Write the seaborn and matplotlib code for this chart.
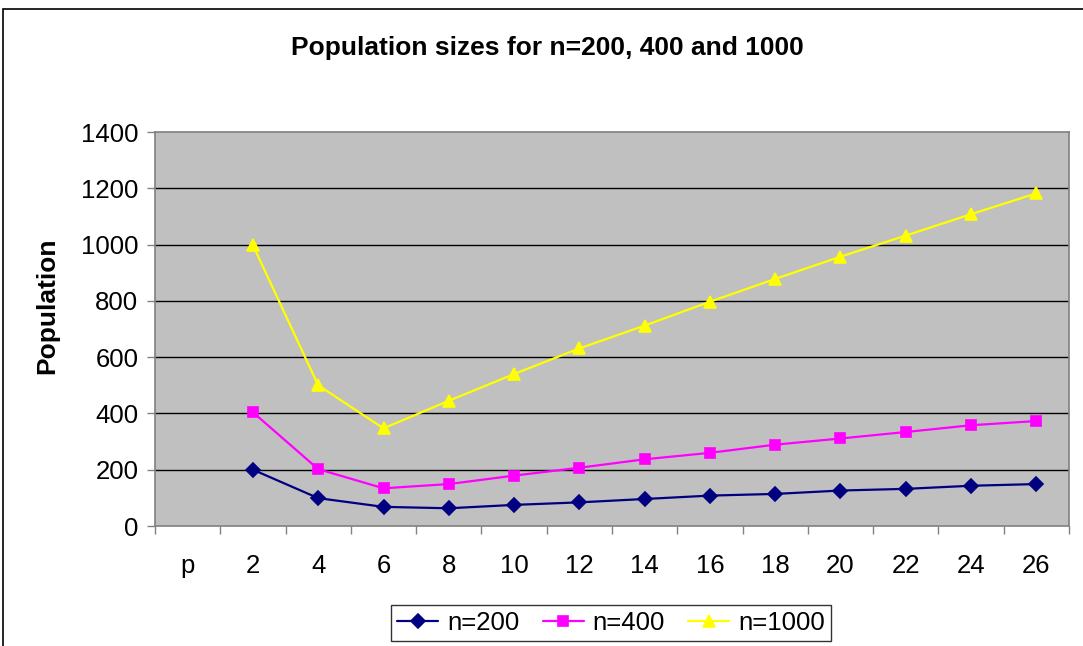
import matplotlib
matplotlib.use("Agg")
import matplotlib.pyplot as plt
from matplotlib.patches import Rectangle
from matplotlib.ticker import FixedLocator
import seaborn as sns
import numpy as np
import pandas as pd

categories = ["p", "2", "4", "6", "8", "10", "12", "14", "16", "18", "20", "22", "24", "26"]
n200 = [np.nan, 200, 99, 68, 63, 75, 84, 96, 108, 114, 126, 132, 143, 149]
n400 = [np.nan, 404, 202, 134, 149, 179, 207, 237, 260, 289, 311, 334, 358, 373]
n1000 = [np.nan, 998, 500, 347, 445, 540, 631, 712, 797, 878, 957, 1032, 1108, 1182]
series_names = ["n=200", "n=400", "n=1000"]
y_ticks = [0, 200, 400, 600, 800, 1000, 1200, 1400]

rows = []
for name, vals in zip(series_names, [n200, n400, n1000]):
    for c, v in zip(categories, vals):
        rows.append({"p": c, "Population": v, "series": name})
df = pd.DataFrame(rows)

sns.set_theme(style="white")
plt.rcParams["font.family"] = ["Liberation Sans", "DejaVu Sans"]
plt.rcParams["text.color"] = "black"
plt.rcParams["axes.labelcolor"] = "black"
plt.rcParams["xtick.color"] = "black"
plt.rcParams["ytick.color"] = "black"

W, H = 1083, 646
fig = plt.figure(figsize=(W / 100, H / 100), dpi=100)
ax = fig.add_axes([155 / W, 1 - 526 / H, (1069 - 155) / W, (526 - 132) / H])
ax.set_facecolor("#C0C0C0")

colors = ["#000080", "#FF00FF", "#FFFF00"]
sns.pointplot(data=df, x="p", y="Population", hue="series", order=categories,
              hue_order=series_names, palette=colors, markers=["D", "s", "^"],
              linestyles=["-", "-", "-"], errorbar=None, dodge=False,
              markersize=7, linewidth=1.6, ax=ax)
for line in ax.lines:
    m = line.get_marker()
    if m == "D":
        line.set_markersize(7)
    elif m == "s":
        line.set_markersize(7.5)
    elif m == "^":
        line.set_markersize(8.5)

ax.set_xlim(-0.5, len(categories) - 0.5)
ax.set_ylim(0, 1400)
ax.set_yticks(y_ticks)
ax.set_yticklabels([str(t) for t in y_ticks])
ax.grid(False)
for t in y_ticks[1:-1]:
    ax.axhline(t, color="black", lw=1, zorder=0.5)

ax.xaxis.set_minor_locator(FixedLocator(np.arange(-0.5, len(categories), 1.0)))
ax.tick_params(axis="x", which="major", length=0, pad=20, labelsize=18.5, labelcolor="black")
ax.tick_params(axis="x", which="minor", length=6, width=1, color="#808080", direction="out", bottom=True)
ax.tick_params(axis="y", which="major", length=6, width=1, color="#808080", direction="out",
               left=True, pad=6, labelsize=18.5, labelcolor="black")
for s in ax.spines.values():
    s.set_color("#808080")
    s.set_linewidth(1.2)

ax.set_xlabel("")
ax.set_ylabel("")
fig.text(47 / W, 1 - 306 / H, "Population", rotation=90, ha="center", va="center",
         fontsize=19, fontweight="bold", color="black")
fig.text(547 / W, 1 - 48 / H, "Population sizes for n=200, 400 and 1000", ha="center",
         va="center", fontsize=19, fontweight="bold", color="black")

ax.get_legend().remove()
handles, labels = ax.get_legend_handles_labels()
leg = fig.legend(handles, labels, loc="center", bbox_to_anchor=(611 / W, 1 - 623 / H),
                 ncol=3, frameon=True, fancybox=False, edgecolor="black", fontsize=18.5,
                 handlelength=1.6, columnspacing=0.9, handletextpad=0.35, borderpad=0.25,
                 borderaxespad=0)
leg.get_frame().set_linewidth(1)
for txt in leg.get_texts():
    txt.set_color("black")

fig.patches.append(Rectangle((3 / W, -0.05), 1.1, 1 - 9 / H + 0.05, transform=fig.transFigure,
                             fill=False, edgecolor="black", lw=1.2))

fig.savefig("out.png", dpi=100, facecolor="white")
